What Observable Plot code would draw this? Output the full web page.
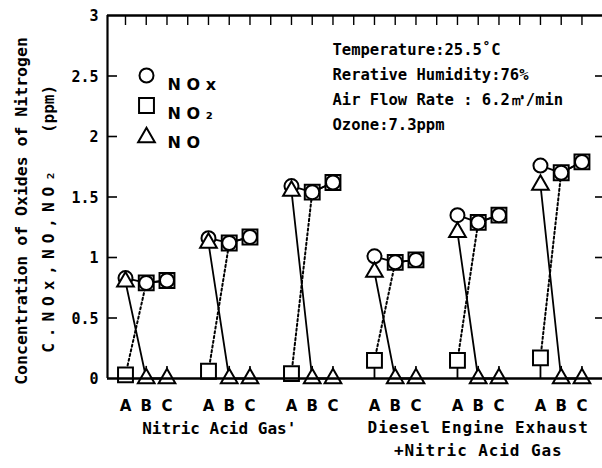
<!DOCTYPE html>
<html><head><meta charset="utf-8">
<script src="https://cdn.jsdelivr.net/npm/d3@7"></script>
<script src="https://cdn.jsdelivr.net/npm/@observablehq/plot@0.6"></script>
<style>html,body{margin:0;padding:0;background:#fff} svg{display:block}</style>
</head><body><div id="chart"></div>
<script>
// ---- data ----
const points = ["A", "B", "C"];
const groupNames = ["Nitric Acid Gas'", "Diesel Engine Exhaust\n+Nitric Acid Gas"];
// six runs x three sampling points (A, B, C)
const noxValues = [0.83, 0.79, 0.81, 1.16, 1.12, 1.17, 1.59, 1.54, 1.62, 1.01, 0.96, 0.98, 1.35, 1.29, 1.35, 1.76, 1.70, 1.79];
const no2Values = [0.03, 0.79, 0.81, 0.06, 1.12, 1.17, 0.04, 1.54, 1.62, 0.15, 0.96, 0.98, 0.15, 1.29, 1.35, 0.17, 1.70, 1.79];
const noValues  = [0.80, 0.00, 0.00, 1.12, 0.00, 0.00, 1.55, 0.00, 0.00, 0.88, 0.00, 0.00, 1.21, 0.00, 0.00, 1.60, 0.00, 0.00];
const noBarTop  = [null, 0.10, 0.10, null, 0.10, 0.10, null, 0.10, 0.10, null, 0.10, 0.10, null, 0.10, 0.10, null, 0.10, 0.10];
const yTicks = [0, 0.5, 1, 1.5, 2, 2.5, 3];
const yTickLabels = ["0", "0.5", "1", "1.5", "2", "2.5", "3"];
const legendLabels = ["N O x", "N O \u2082", "N O"];
const legendSymbols = ["circle", "square", "triangle"];
const conditions = ["Temperature:25.5\u02DAC", "Rerative Humidity:76%", "Air Flow Rate : 6.2\u33A5/min", "Ozone:7.3ppm"];
const yTitle1 = "Concentration of Oxides of Nitrogen";
const yTitle2a = "C.NOx,NO,NO\u2082";
const yTitle2b = "(ppm)";

// ---- table ----
const rows = noxValues.map((v, i) => ({
  idx: Math.floor(i / 3) * 4 + (i % 3),
  group: Math.floor(i / 3),
  point: points[i % 3],
  nox: v, no2: no2Values[i], no: noValues[i], noBar: noBarTop[i]
}));
const tickIdx = d3.range(0, d3.max(rows, d => d.idx) + 1);

const W = 602, H = 468, mL = 107, mR = 0, mT = 15, mB = 90;
const pw = W - mL - mR, ph = H - mT - mB;
const xDomain = [-0.867, 22.99];
const mono = "DejaVu Sans Mono";
const sans = "DejaVu Sans";
const ink = "#000";

const marks = [
  // inward ticks
  Plot.ruleY(yTicks.slice(1, -1), {stroke: ink, strokeWidth: 1.6, insetRight: pw - 10}),
  Plot.ruleY(yTicks.slice(1, -1), {stroke: ink, strokeWidth: 1.6, insetLeft: pw - 7}),
  Plot.ruleX(tickIdx, {stroke: ink, strokeWidth: 1.4, insetBottom: ph - 10}),
  // frame lines
  Plot.ruleY(yTicks.slice(-1), {stroke: ink, strokeWidth: 2.4}),
  Plot.ruleX(xDomain.slice(0, 1), {stroke: ink, strokeWidth: 2.2}),
  // connecting lines
  Plot.line(rows, {x: "idx", y: "no", z: "group", stroke: ink, strokeWidth: 1.8}),
  Plot.line(rows.filter(d => d.point !== "C"), {x: "idx", y: "no2", z: "group", stroke: ink, strokeWidth: 2, strokeDasharray: "2.2,2.6"}),
  Plot.line(rows, {x: "idx", y: "nox", z: "group", stroke: ink, strokeWidth: 1.8}),
  Plot.line(rows.filter(d => d.point !== "A"), {x: "idx", y: "no2", z: "group", stroke: ink, strokeWidth: 1.8}),
  // stems
  Plot.ruleX(rows.filter(d => d.point === "A"), {x: "idx", y1: 0, y2: "no2", stroke: ink, strokeWidth: 1.8}),
  Plot.ruleX(rows.filter(d => d.noBar != null), {x: "idx", y1: 0, y2: "noBar", stroke: ink, strokeWidth: 1.6}),
  // markers
  Plot.dot(rows, {x: "idx", y: "no2", symbol: "square", r: 8.4, fill: "#fff", stroke: ink, strokeWidth: 2}),
  Plot.dot(rows, {x: "idx", y: "nox", symbol: "circle", r: 7, fill: "#fff", stroke: ink, strokeWidth: 2}),
  Plot.dot(rows, {x: "idx", y: "no", symbol: "triangle", r: 6.2, fill: "#fff", stroke: ink, strokeWidth: 2}),
  // bottom axis line
  Plot.ruleY(yTicks.slice(0, 1), {stroke: ink, strokeWidth: 2.6}),
  // y tick labels
  Plot.text(yTicks, {y: d => d, text: (d, i) => yTickLabels[i], frameAnchor: "left", textAnchor: "end", dx: -9, dy: 1,
    fontFamily: mono, fontWeight: "bold", fontSize: 15, fill: ink}),
  // x point labels
  Plot.text(rows, {x: "idx", text: "point", frameAnchor: "bottom", dy: 28, lineAnchor: "middle",
    fontFamily: sans, fontWeight: "bold", fontSize: 15, fill: ink}),
  // group labels
  Plot.text([groupNames[0]], {x: [d3.mean(rows.filter(d => d.group < 3), d => d.idx)], text: d => d, frameAnchor: "bottom",
    dy: 50, dx: -10, lineAnchor: "middle", fontFamily: mono, fontWeight: "bold", fontSize: 16, fill: ink}),
  Plot.text([groupNames[1]], {x: [d3.mean(rows.filter(d => d.group >= 3), d => d.idx)], text: d => d, frameAnchor: "bottom",
    dy: 39, lineAnchor: "top", lineHeight: 1.4, fontFamily: mono, fontWeight: "bold", fontSize: 16, fill: ink, ariaLabel: () => "grp2"}),
  // y title
  Plot.text([yTitle1], {text: d => d, frameAnchor: "left", rotate: -90, dx: -86, dy: 14, textAnchor: "middle", lineAnchor: "middle",
    fontFamily: mono, fontWeight: "bold", fontSize: 16.5, fill: ink}),
  Plot.text([yTitle2a], {text: d => d, frameAnchor: "left", rotate: -90, dx: -59, dy: 62, textAnchor: "middle", lineAnchor: "middle",
    fontFamily: mono, fontWeight: "bold", fontSize: 16, fill: ink, ariaLabel: () => "ytitle2"}),
  Plot.text([yTitle2b], {text: d => d, frameAnchor: "left", rotate: -90, dx: -59, dy: -88, textAnchor: "middle", lineAnchor: "middle",
    fontFamily: mono, fontWeight: "bold", fontSize: 16, fill: ink}),
  // conditions annotation
  Plot.text([conditions.join("\n")], {text: d => d, frameAnchor: "top-left", dx: 225, dy: 22, textAnchor: "start",
    lineAnchor: "top", lineHeight: 1.6, fontFamily: mono, fontWeight: "bold", fontSize: 15.5, fill: ink}),
  // legend
  ...legendLabels.flatMap((lab, i) => [
    Plot.dot([lab], {frameAnchor: "top-left", dx: 39, dy: 60 + i * 30 + (i === 2 ? 2 : 0), symbol: legendSymbols[i],
      r: [7, 8.4, 6.2][i], fill: "#fff", stroke: ink, strokeWidth: 2}),
    Plot.text([lab], {text: d => d, frameAnchor: "top-left", dx: 60, dy: 63 + i * 29, textAnchor: "start",
      fontFamily: sans, fontSize: 16, fontWeight: 600, fill: ink})
  ])
];

const chart = Plot.plot({
  width: W, height: H,
  marginLeft: mL, marginRight: mR, marginTop: mT, marginBottom: mB,
  style: {background: "#fff", color: ink, fontFamily: mono},
  x: {domain: xDomain, axis: null},
  y: {domain: [0, 3], axis: null},
  marks
});
d3.select(chart).selectAll('[aria-label="ytitle2"], [aria-label="ytitle2"] text').style("letter-spacing", "6px");
d3.select(chart).selectAll('[aria-label="grp2"], [aria-label="grp2"] text, [aria-label="grp2"] tspan').style("letter-spacing", "0.9px");
document.getElementById("chart").appendChild(chart);
</script>
</body></html>
